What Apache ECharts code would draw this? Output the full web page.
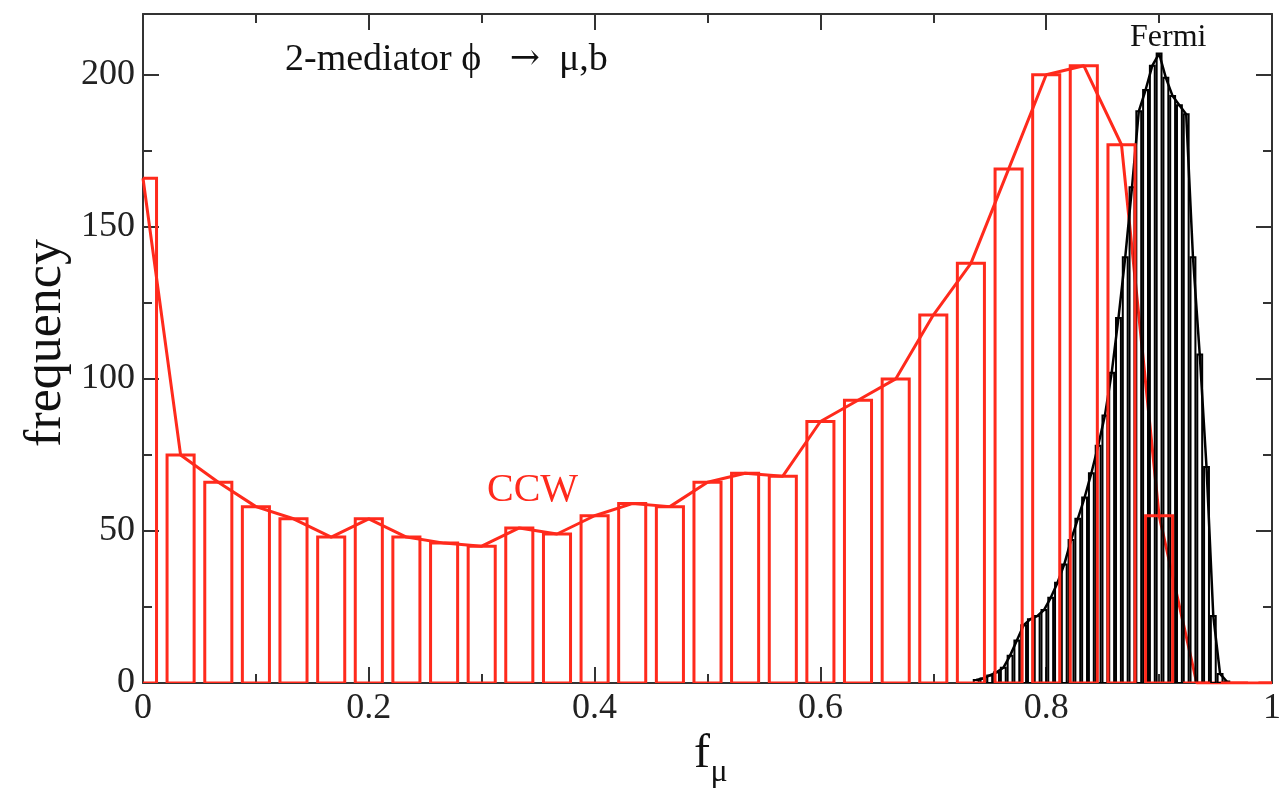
<!DOCTYPE html>
<html>
<head>
<meta charset="utf-8">
<script src="https://cdn.jsdelivr.net/npm/echarts@6/dist/echarts.min.js"></script>
<style>
html,body{margin:0;padding:0;background:#fff;}
#chart{width:1284px;height:789px;}
</style>
</head>
<body>
<div id="chart"></div>
<script>
// ---- data ----
const ccwCenters = [0, 0.0333, 0.0667, 0.1, 0.1333, 0.1667, 0.2, 0.2333, 0.2667, 0.3,
  0.3333, 0.3667, 0.4, 0.4333, 0.4667, 0.5, 0.5333, 0.5667, 0.6, 0.6333,
  0.6667, 0.7, 0.7333, 0.7667, 0.8, 0.8333, 0.8667, 0.9, 0.9333, 0.9667, 1.0];
const ccwCounts = [166, 75, 66, 58, 54, 48, 54, 48, 46, 45,
  51, 49, 55, 59, 58, 66, 69, 68, 86, 93,
  100, 121, 138, 169, 200, 203, 177, 55, 0, 0, 0];
const fermiCenters = [0.738, 0.744, 0.750, 0.756, 0.762, 0.768, 0.774, 0.780, 0.786, 0.792,
  0.798, 0.804, 0.810, 0.816, 0.822, 0.828, 0.834, 0.840, 0.846, 0.852,
  0.858, 0.864, 0.870, 0.876, 0.882, 0.888, 0.894, 0.900, 0.906, 0.912,
  0.918, 0.924, 0.930, 0.936, 0.942, 0.948, 0.954, 0.960];
const fermiCounts = [1, 1.5, 2.5, 3.5, 5, 9, 14, 19, 21, 22,
  24, 28, 33, 39, 47, 54, 61, 69, 78, 88,
  102, 120, 140, 163, 188, 195, 203, 207, 199, 193,
  190, 187, 140, 108, 71, 22, 3, 0.5];
const xTickLabels = {0: '0', 0.2: '0.2', 0.4: '0.4', 0.6: '0.6', 0.8: '0.8', 1: '1'};
const ccwBinWidth = 0.0333;
const fermiBinWidth = 0.006;

const RED = '#ff2a1c';
const FONT = '"Liberation Serif", "DejaVu Serif", serif';

function pairs(xs, ys) { return xs.map((x, i) => [x, ys[i]]); }

function barRender(binW, frac, color, lw) {
  return function (params, api) {
    const x = api.value(0), y = api.value(1);
    const p0 = api.coord([x - binW * frac / 2, y]);
    const p1 = api.coord([x + binW * frac / 2, 0]);
    return {
      type: 'rect',
      shape: { x: p0[0], y: p0[1], width: p1[0] - p0[0], height: p1[1] - p0[1] },
      style: { fill: 'none', stroke: color, lineWidth: lw }
    };
  };
}

const chart = echarts.init(document.getElementById('chart'), null, { renderer: 'canvas' });

const axisLineStyle = { color: '#333', width: 2 };
function xAx(pos, labels) {
  return {
    type: 'value', position: pos, min: 0, max: 1, interval: 0.2,
    axisLine: { show: true, onZero: false, lineStyle: axisLineStyle },
    axisTick: { show: true, inside: true, length: 16, lineStyle: { color: '#333', width: 2 } },
    minorTick: { show: true, splitNumber: 2, length: 9, lineStyle: { color: '#333', width: 2 } },
    splitLine: { show: false }, minorSplitLine: { show: false },
    axisLabel: labels ? {
      show: true, margin: 8, fontFamily: FONT, fontSize: 36, color: '#222',
      formatter: v => xTickLabels[Math.round(v * 10) / 10] ?? ''
    } : { show: false }
  };
}
function yAx(pos, interval, len, labels, line) {
  return {
    type: 'value', position: pos, min: 0, max: 220, interval: interval,
    axisLine: { show: line, onZero: false, lineStyle: axisLineStyle },
    axisTick: { show: true, inside: true, length: len, lineStyle: { color: '#333', width: 2 } },
    splitLine: { show: false },
    axisLabel: labels ? {
      show: true, margin: 8, fontFamily: FONT, fontSize: 36, color: '#222', showMaxLabel: false
    } : { show: false }
  };
}

const option = {
  animation: false,
  backgroundColor: '#fff',
  grid: { left: 143, right: 5, top: 14, bottom: 106, containLabel: false },
  xAxis: [xAx('bottom', true), xAx('top', false)],
  yAxis: [
    yAx('left', 50, 16, true, true),
    yAx('left', 25, 9, false, false),
    yAx('right', 50, 16, false, true),
    yAx('right', 25, 9, false, false)
  ],
  series: [
    {
      type: 'line', name: 'CCW line', data: pairs(ccwCenters, ccwCounts),
      xAxisIndex: 0, yAxisIndex: 0, symbol: 'none', clip: true,
      lineStyle: { color: RED, width: 3 }, z: 2
    },
    {
      type: 'custom', name: 'Fermi bars', data: pairs(fermiCenters, fermiCounts),
      xAxisIndex: 0, yAxisIndex: 0, clip: true,
      renderItem: barRender(fermiBinWidth, 0.72, '#000', 2), z: 3
    },
    {
      type: 'line', name: 'Fermi line', data: pairs(fermiCenters, fermiCounts),
      xAxisIndex: 0, yAxisIndex: 0, symbol: 'none', clip: true,
      lineStyle: { color: '#000', width: 2.5 }, z: 4
    },
    {
      type: 'custom', name: 'CCW bars', data: pairs(ccwCenters, ccwCounts),
      xAxisIndex: 0, yAxisIndex: 0, clip: true,
      renderItem: barRender(ccwBinWidth, 0.72, RED, 3), z: 5
    }
  ],
  graphic: [
    { type: 'text', x: 285, y: 60, z: 10,
      style: {
        text: '{a|2-mediator ϕ   }{b|→}{a|  μ,b}',
        verticalAlign: 'middle', fill: '#111',
        rich: {
          a: { fontFamily: FONT, fontSize: 38, fill: '#111' },
          b: { fontFamily: '"DejaVu Serif", "DejaVu Sans", sans-serif', fontSize: 36, fill: '#111' }
        }
      } },
    { type: 'text', x: 1130, y: 38, z: 10,
      style: { text: 'Fermi', font: '32px ' + FONT, fill: '#111', verticalAlign: 'middle' } },
    { type: 'text', x: 487, y: 490, z: 10,
      style: { text: 'CCW', font: '40px ' + FONT, fill: RED, verticalAlign: 'middle' } },
    { type: 'text', x: 46, y: 343, rotation: Math.PI / 2, z: 10,
      style: { text: 'frequency', font: '52px ' + FONT, fill: '#111', align: 'center', verticalAlign: 'middle' } },
    { type: 'text', x: 702, y: 754, z: 10,
      style: { text: 'f', font: '48px ' + FONT, fill: '#111', align: 'center', verticalAlign: 'middle' } },
    { type: 'text', x: 719, y: 773, z: 10,
      style: { text: 'μ', font: '32px ' + FONT, fill: '#111', align: 'center', verticalAlign: 'middle' } }
  ]
};
chart.setOption(option);
</script>
</body>
</html>
